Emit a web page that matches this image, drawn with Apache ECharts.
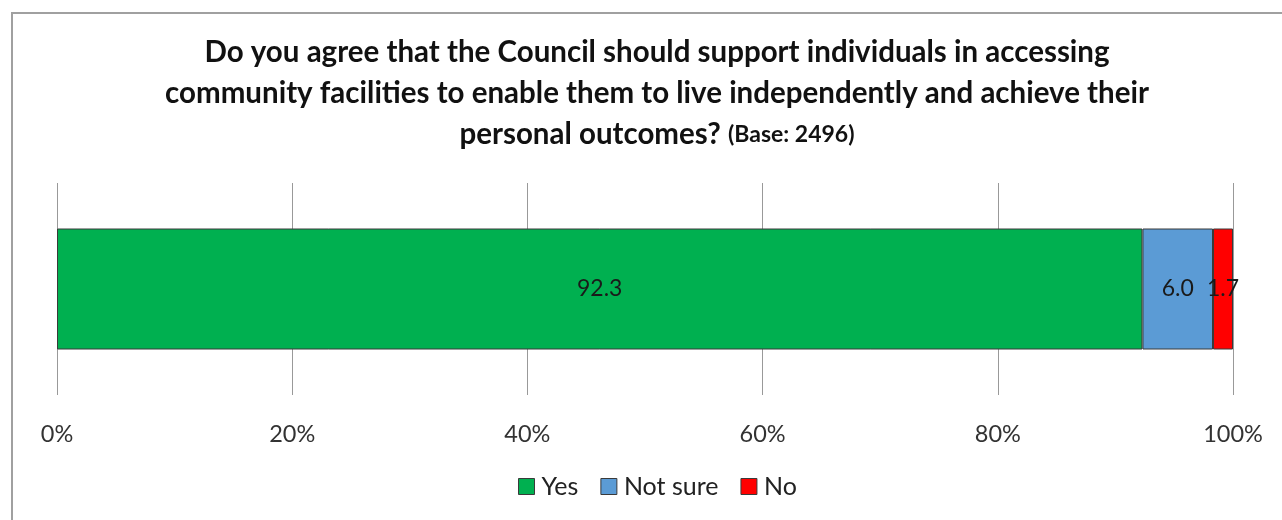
<!DOCTYPE html>
<html>
<head>
<meta charset="utf-8">
<script src="https://cdn.jsdelivr.net/npm/echarts@6/dist/echarts.min.js"></script>
<style>
html,body{margin:0;padding:0;background:#fff;}
#frame{position:absolute;left:11px;top:12px;width:1290px;height:520px;border:2px solid #a0a0a0;box-sizing:border-box;}
#chart{position:absolute;left:0;top:0;width:1282px;height:520px;}
</style>
</head>
<body>
<div id="frame"></div>
<div id="chart"></div>
<script>
const categories = ['Response'];
const seriesNames = ['Yes', 'Not sure', 'No'];
const yesValues = [92.3];
const notSureValues = [6.0];
const noValues = [1.7];
const colors = ['#00B050', '#5B9BD5', '#FF0000'];
const xTicks = [0, 20, 40, 60, 80, 100];

const chart = echarts.init(document.getElementById('chart'), null, {renderer: 'canvas'});
const FONT = 'Lato, "Open Sans", sans-serif';
const valuesList = [yesValues, notSureValues, noValues];

const series = seriesNames.map((name, i) => ({
  name: name,
  type: 'bar',
  stack: 'total',
  barWidth: 121,
  data: valuesList[i],
  itemStyle: {color: colors[i], borderColor: '#3a3a3a', borderWidth: 1},
  label: {
    show: true,
    position: 'inside',
    formatter: p => p.value.toFixed(1),
    color: '#1a1a1a',
    fontFamily: FONT,
    fontSize: 23
  }
}));

chart.setOption({
  backgroundColor: 'transparent',
  animation: false,
  color: colors,
  title: {
    text: '{b|Do you agree that the Council should support individuals in accessing}\n{b|community facilities to enable them to live independently and achieve their}\n{b|personal outcomes? }{s|(Base: 2496)}',
    left: 652,
    textAlign: 'center',
    top: 27,
    textStyle: {
      rich: {
        b: {fontFamily: FONT, fontWeight: 'bold', fontSize: 29.5, color: '#111', lineHeight: 41},
        s: {fontFamily: FONT, fontWeight: 'bold', fontSize: 23, color: '#111', lineHeight: 41}
      }
    }
  },
  legend: {
    data: seriesNames,
    bottom: 16,
    left: 513,
    icon: 'rect',
    itemWidth: 16,
    itemHeight: 16,
    itemGap: 22,
    textStyle: {fontFamily: FONT, fontSize: 25, color: '#222', padding: [0,0,0,2]},
    itemStyle: {borderColor: '#3a3a3a', borderWidth: 1}
  },
  grid: {left: 57, right: 49, top: 183, bottom: 125, containLabel: false},
  xAxis: {
    type: 'value',
    min: 0,
    max: 100,
    interval: 20,
    axisLine: {show: false},
    axisTick: {show: false},
    splitLine: {show: true, lineStyle: {color: '#999', width: 1}},
    axisLabel: {
      formatter: v => xTicks.includes(v) ? v + '%' : '',
      fontFamily: FONT,
      fontSize: 23.5,
      color: '#333',
      margin: 27
    }
  },
  yAxis: {
    type: 'category',
    data: categories,
    axisLine: {show: false},
    axisTick: {show: false},
    axisLabel: {show: false}
  },
  series: series
});
</script>
</body>
</html>
